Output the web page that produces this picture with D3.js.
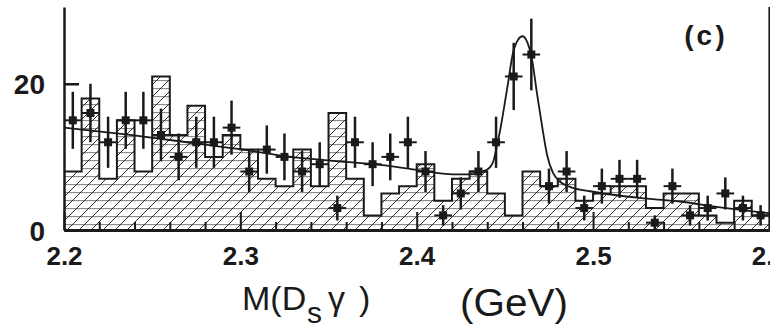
<!DOCTYPE html>
<html>
<head>
<meta charset="utf-8">
<script src="https://cdn.jsdelivr.net/npm/d3@7/dist/d3.min.js"></script>
<style>
  body { margin: 0; background: #fff; }
  svg { display: block; }
  .tick text { font-family: "Liberation Sans", Arial, sans-serif; font-weight: bold; fill: #1a1a1a; }
</style>
</head>
<body>
<script>
// Width and height
var w = 770,
    h = 329;

// bin centres in GeV (10 MeV bins)
var massBins = [2.205, 2.215, 2.225, 2.235, 2.245, 2.255, 2.265, 2.275, 2.285, 2.295,
                2.305, 2.315, 2.325, 2.335, 2.345, 2.355, 2.365, 2.375, 2.385, 2.395,
                2.405, 2.415, 2.425, 2.435, 2.445, 2.455, 2.465, 2.475, 2.485, 2.495,
                2.505, 2.515, 2.525, 2.535, 2.545, 2.555, 2.565, 2.575, 2.585, 2.595];
var binHalf = 0.005;

// hatched histogram
var histCounts = [8, 18, 7, 15, 8, 21, 13, 17, 10, 13,
                  11, 7, 6, 11, 6, 16, 7, 2, 5, 6,
                  9, 4, 7, 8, 5, 2, 8, 6, 7, 4,
                  5, 6, 6, 3, 5, 5, 2, 1, 4, 2];

// data points and their errors
var dataCounts = [15, 16, 12, 15, 15, 13, 10, 12, 12, 14,
                  8, 11, 10, 8, 9, 3, 12, 9, 10, 12,
                  8, 2, 5, 8, 12, 21, 24, 6, 8, 3,
                  6, 7, 7, 1, 6, 2, 3, 5, 3, 2];
var dataErrors = [3.9, 4.0, 3.5, 3.9, 3.9, 3.6, 3.2, 3.5, 3.5, 3.7,
                  2.8, 3.3, 3.2, 2.8, 3.0, 1.7, 3.5, 3.0, 3.2, 3.5,
                  2.8, 1.4, 2.2, 2.8, 3.5, 4.6, 4.9, 2.4, 2.8, 1.7,
                  2.4, 2.6, 2.6, 1.0, 2.4, 1.4, 1.7, 2.2, 1.7, 1.4];

// fit curve
var fitMass = [2.2000, 2.2374, 2.2731, 2.2998, 2.3282, 2.3508, 2.3832, 2.4007, 2.4206, 2.4302,
               2.4376, 2.4416, 2.4433, 2.4455, 2.4472, 2.4512, 2.4546, 2.4574, 2.4600, 2.4625,
               2.4654, 2.4682, 2.4711, 2.4739, 2.4773, 2.4813, 2.4869, 2.4983, 2.5306, 2.5493,
               2.5720, 2.5998];
var fitValue = [14.0, 13.0, 11.9, 11.05, 10.0, 9.5, 8.8, 8.2, 7.6, 7.6,
                8.0, 8.6, 9.3, 11.5, 13.5, 19.2, 24.2, 26.0, 26.5, 25.8,
                23.3, 18.7, 14.2, 10.3, 7.8, 6.6, 5.9, 5.3, 4.3, 3.9,
                3.1, 2.3];

var xMajorTicks = [2.2, 2.3, 2.4, 2.5, 2.6];
var xMinorTicks = [2.22, 2.24, 2.26, 2.28, 2.32, 2.34, 2.36, 2.38,
                   2.42, 2.44, 2.46, 2.48, 2.52, 2.54, 2.56, 2.58];
var yTicks = [0, 20];

// Set scales
var xScale = d3.scaleLinear().domain([2.2, 2.6]).range([64, 769.4]);
var yScale = d3.scaleLinear().domain([0, 30.5]).range([230, 7]);

var svg = d3.select('body')
            .append('svg')
            .attr('width', w)
            .attr('height', h);

// hatch patterns
var defs = svg.append('defs');
var hor = defs.append('pattern')
   .attr('id', 'hor')
   .attr('patternUnits', 'userSpaceOnUse')
   .attr('width', 8).attr('height', 8)
   .attr('y', yScale(0) - 6);
hor.append('line')
   .attr('x1', 0).attr('x2', 8)
   .attr('y1', 0.5).attr('y2', 0.5)
   .attr('stroke', '#8c8c8c')
   .attr('stroke-width', 1.3);

var diag = defs.append('pattern')
   .attr('id', 'diag')
   .attr('patternUnits', 'userSpaceOnUse')
   .attr('width', 12).attr('height', 12)
   .attr('x', xScale(2.2) + 3).attr('y', yScale(0));
diag.append('path')
   .attr('d', 'M0,12 L12,0 M-3,3 L3,-3 M9,15 L15,9')
   .attr('stroke', '#1a1a1a')
   .attr('stroke-width', 0.9);

// histogram steps: left edge of every bin, plus closing right edge
var steps = massBins.map(function(m, i) {
  return { x: m - binHalf, y: histCounts[i] };
});
steps.push({ x: massBins[massBins.length - 1] + binHalf, y: histCounts[histCounts.length - 1] });

var histArea = d3.area()
   .curve(d3.curveStepAfter)
   .x(function(d) { return xScale(d.x); })
   .y0(yScale(0))
   .y1(function(d) { return yScale(d.y); });

var histLine = d3.line()
   .curve(d3.curveStepAfter)
   .x(function(d) { return xScale(d.x); })
   .y(function(d) { return yScale(d.y); });

svg.append('path').datum(steps).attr('d', histArea).attr('fill', 'url(#hor)');
svg.append('path').datum(steps).attr('d', histArea).attr('fill', 'url(#diag)');
svg.append('path').datum(steps).attr('d', histLine)
   .attr('fill', 'none')
   .attr('stroke', '#1a1a1a')
   .attr('stroke-width', 2);

// fit curve
var fitLine = d3.line()
   .curve(d3.curveMonotoneX)
   .x(function(d) { return xScale(d[0]); })
   .y(function(d) { return yScale(d[1]); });

svg.append('path')
   .datum(d3.zip(fitMass, fitValue))
   .attr('d', fitLine)
   .attr('fill', 'none')
   .attr('stroke', '#1a1a1a')
   .attr('stroke-width', 1.8);

// data points with error bars
var pts = svg.append('g')
   .selectAll('g')
   .data(massBins.map(function(m, i) { return { m: m, c: dataCounts[i], e: dataErrors[i] }; }))
   .enter().append('g');

pts.append('line')
   .attr('x1', function(d) { return xScale(d.m); })
   .attr('x2', function(d) { return xScale(d.m); })
   .attr('y1', function(d) { return yScale(d.c + d.e); })
   .attr('y2', function(d) { return yScale(Math.max(d.c - d.e, 0)); })
   .attr('stroke', '#1a1a1a')
   .attr('stroke-width', 2.5);

pts.append('line')
   .attr('x1', function(d) { return xScale(d.m - binHalf); })
   .attr('x2', function(d) { return xScale(d.m + binHalf); })
   .attr('y1', function(d) { return yScale(d.c); })
   .attr('y2', function(d) { return yScale(d.c); })
   .attr('stroke', '#1a1a1a')
   .attr('stroke-width', 2);

pts.append('rect')
   .attr('x', function(d) { return xScale(d.m) - 4; })
   .attr('y', function(d) { return yScale(d.c) - 4; })
   .attr('width', 8)
   .attr('height', 8)
   .attr('fill', '#1a1a1a');

// Axes
var xAxis = d3.axisBottom(xScale)
   .tickValues(xMajorTicks)
   .tickSizeInner(-18)
   .tickSizeOuter(0)
   .tickPadding(17)
   .tickFormat(d3.format('.1f'));

var xMinor = d3.axisBottom(xScale)
   .tickValues(xMinorTicks)
   .tickSizeInner(-8)
   .tickSizeOuter(0)
   .tickFormat('');

var yAxis = d3.axisLeft(yScale)
   .tickValues(yTicks)
   .tickSizeInner(-15)
   .tickSizeOuter(0)
   .tickPadding(19)
   .tickFormat(d3.format('d'));

var gxm = svg.append('g')
   .attr('transform', 'translate(0,' + yScale(0) + ')')
   .call(xMinor);
gxm.select('.domain').remove();
gxm.selectAll('line').attr('stroke', '#1a1a1a').attr('stroke-width', 2);

var gx = svg.append('g')
   .attr('transform', 'translate(0,' + yScale(0) + ')')
   .call(xAxis);
gx.select('.domain').attr('stroke', '#1a1a1a').attr('stroke-width', 3);
gx.selectAll('line').attr('stroke', '#1a1a1a').attr('stroke-width', 2);
gx.selectAll('text').attr('font-size', 26);

var gy = svg.append('g')
   .attr('transform', 'translate(' + xScale(2.2) + ',0)')
   .call(yAxis);
gy.select('.domain').attr('stroke', '#1a1a1a').attr('stroke-width', 2.5);
gy.selectAll('line').attr('stroke', '#1a1a1a').attr('stroke-width', 2.5);
gy.selectAll('text').attr('font-size', 28).attr('dy', '0.36em');

// right frame
svg.append('line')
   .attr('x1', xScale(2.6)).attr('x2', xScale(2.6))
   .attr('y1', yScale(30.5)).attr('y2', yScale(0))
   .attr('stroke', '#1a1a1a')
   .attr('stroke-width', 2);

// panel label
svg.append('text')
   .attr('x', 681)
   .attr('y', 45)
   .attr('font-family', '"Liberation Mono", "DejaVu Sans Mono", monospace')
   .attr('font-weight', 'bold')
   .attr('font-size', 28)
   .attr('textLength', 47)
   .attr('lengthAdjust', 'spacing')
   .attr('fill', '#1a1a1a')
   .text('(c)');

// axis title
var title = svg.append('text')
   .attr('y', 310)
   .attr('font-family', '"Liberation Sans", Arial, sans-serif')
   .attr('font-size', 34)
   .attr('fill', '#1a1a1a');
title.append('tspan').attr('x', 242).text('M(D');
title.append('tspan').attr('x', 307).attr('dy', 13).attr('font-size', 30).text('s');
title.append('tspan').attr('x', 328).attr('dy', -13).text('\u03b3');
title.append('tspan').attr('x', 359).text(')');

svg.append('text')
   .attr('x', 460)
   .attr('y', 316)
   .attr('font-family', '"Liberation Sans", Arial, sans-serif')
   .attr('font-size', 38)
   .attr('textLength', 108)
   .attr('lengthAdjust', 'spacingAndGlyphs')
   .attr('fill', '#1a1a1a')
   .text('(GeV)');
</script>
</body>
</html>
